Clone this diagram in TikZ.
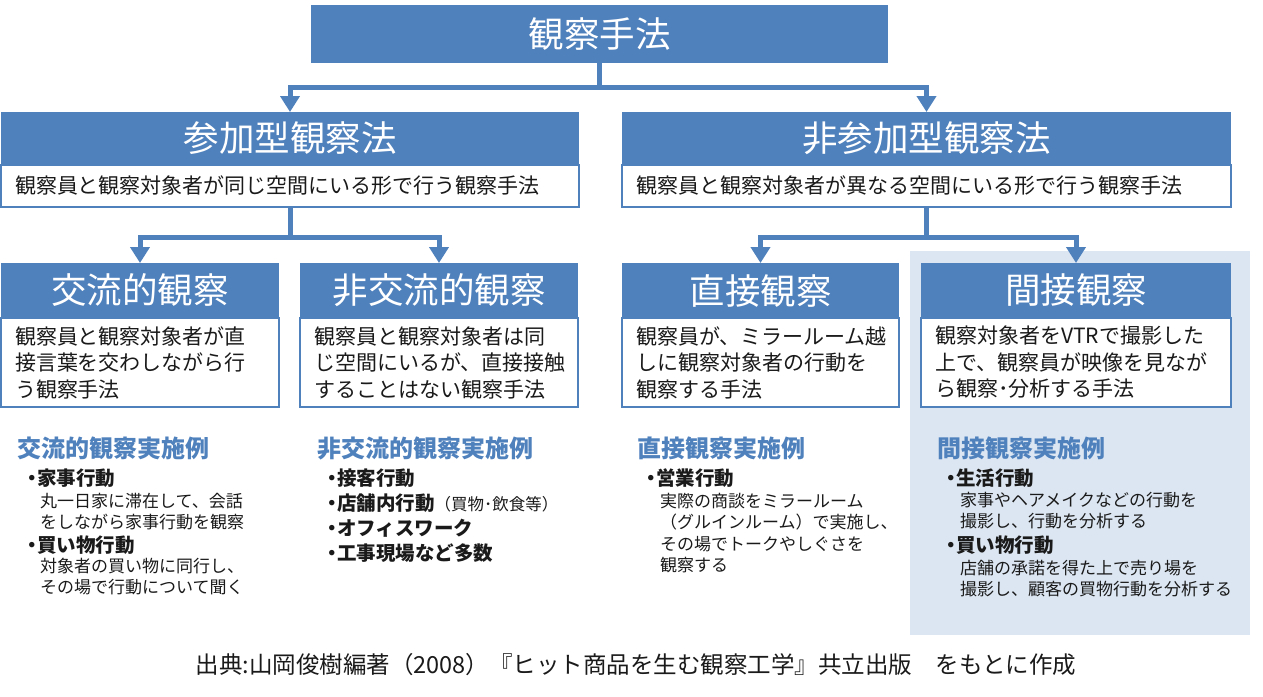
\documentclass[tikz,border=0pt]{standalone}
\usepackage{fontspec}
\setmainfont{Noto Sans CJK JP}
\usetikzlibrary{arrows.meta}
\definecolor{obblue}{HTML}{4F81BD}
\definecolor{panelblue}{HTML}{DCE6F2}
\definecolor{ink}{HTML}{1A1A1A}
\newcommand\fsz[2]{\fontsize{#1}{#2}\selectfont}
\tikzset{
  band/.style={fill=obblue, text=white, inner sep=0pt, outer sep=0pt, anchor=north west, font=\fsz{35.5}{40}},
  descbox/.style={draw=obblue, line width=2pt, fill=white, inner xsep=14pt, inner ysep=0pt, outer sep=0pt, anchor=north west, align=left, text=ink, font=\fsz{21}{26.5}},
  conn/.style={draw=obblue, line width=5pt, -{Triangle[width=19pt,length=16pt]}},
  exhead/.style={anchor=west, inner sep=0pt, text=obblue, font=\bfseries\fsz{24}{28}},
  exbullet/.style={anchor=west, inner sep=0pt, text=ink, font=\bfseries\fsz{19.5}{24}},
  exdetail/.style={anchor=west, inner sep=0pt, text=ink, align=left, font=\fsz{17}{21}},
}
\newcommand\bul{\makebox[10pt]{・}}
\begin{document}
\begin{tikzpicture}[x=1pt,y=-1pt]
\useasboundingbox (0,0) rectangle (1263,696);
\fill[panelblue] (910,251) rectangle (1250,635);

% top
\node[band, minimum width=577, minimum height=58] (top) at (311,5) {観察手法};

% level 2
\node[band, minimum width=578, minimum height=53] (pA) at (1,112) {参加型観察法};
\node[descbox, minimum width=578, minimum height=42, text width=550] (pAd) at (1,165) {観察員と観察対象者が同じ空間にいる形で行う観察手法};
\node[band, minimum width=609, minimum height=53] (pB) at (622,112) {非参加型観察法};
\node[descbox, minimum width=609, minimum height=42, text width=581] (pBd) at (622,165) {観察員と観察対象者が異なる空間にいる形で行う観察手法};

% level 3
\node[band, minimum width=278, minimum height=55] (c1) at (1,263) {交流的観察};
\node[descbox, minimum width=278, minimum height=89, text width=250] (c1d) at (1,318) {観察員と観察対象者が直\\接言葉を交わしながら行\\う観察手法};
\node[band, minimum width=278, minimum height=55] (c2) at (300,263) {非交流的観察};
\node[descbox, minimum width=278, minimum height=89, text width=250] (c2d) at (300,318) {観察員と観察対象者は同\\じ空間にいるが、直接接触\\することはない観察手法};
\node[band, minimum width=277, minimum height=55] (c3) at (622,263) {直接観察};
\node[descbox, minimum width=277, minimum height=89, text width=249] (c3d) at (622,318) {観察員が、ミラールーム越\\しに観察対象者の行動を\\観察する手法};
\node[band, minimum width=310, minimum height=55] (c4) at (921,263) {間接観察};
\node[descbox, minimum width=310, minimum height=89, text width=282] (c4d) at (921,318) {観察対象者をVTRで撮影した\\上で、観察員が映像を見なが\\ら観察･分析する手法};

% connectors
\draw[conn] (top.south) -- ++(0,24) -| (pA.north);
\draw[conn] (top.south) -- ++(0,24) -| (pB.north);
\draw[conn] (pAd.south) -- ++(0,30) -| (c1.north);
\draw[conn] (pAd.south) -- ++(0,30) -| (c2.north);
\draw[conn] (pBd.south) -- ++(0,30) -| (c3.north);
\draw[conn] (pBd.south) -- ++(0,30) -| (c4.north);

% examples column 1
\node[exhead] (h1) at (17,448) {交流的観察実施例};
\node[exbullet] (b11) at (27,478) {\bul 家事行動};
\node[exdetail] (d11) at (40,512) {丸一日家に滞在して、会話\\をしながら家事行動を観察};
\node[exbullet] (b12) at (27,545) {\bul 買い物行動};
\node[exdetail] (d12) at (40,577) {対象者の買い物に同行し、\\その場で行動について聞く};

% column 2
\node[exhead] (h2) at (317,448) {非交流的観察実施例};
\node[exbullet] (b21) at (327,478) {\bul 接客行動};
\node[exbullet] (b22) at (327,503) {\bul 店舗内行動{\mdseries\fsz{16.5}{20}（買物･飲食等）}};
\node[exbullet] (b23) at (327,528) {\bul オフィスワーク};
\node[exbullet] (b24) at (327,553) {\bul 工事現場など多数};

% column 3
\node[exhead] (h3) at (637,448) {直接観察実施例};
\node[exbullet] (b31) at (646,478) {\bul 営業行動};
\node[exdetail, font=\fsz{17}{21.3}] (d31) at (660,533) {実際の商談をミラールーム\\（グルインルーム）で実施し、\\その場でトークやしぐさを\\観察する};

% column 4
\node[exhead] (h4) at (937,448) {間接観察実施例};
\node[exbullet] (b41) at (946,478) {\bul 生活行動};
\node[exdetail] (d41) at (960,511) {家事やヘアメイクなどの行動を\\撮影し、行動を分析する};
\node[exbullet] (b42) at (946,545) {\bul 買い物行動};
\node[exdetail] (d42) at (960,579) {店舗の承諾を得た上で売り場を\\撮影し、顧客の買物行動を分析する};

% source
\node[inner sep=0pt, text=ink, font=\fsz{23.5}{28}] (src) at (636,665) {出典:山岡俊樹編著（2008）『ヒット商品を生む観察工学』共立出版　をもとに作成};
\end{tikzpicture}
\end{document}
